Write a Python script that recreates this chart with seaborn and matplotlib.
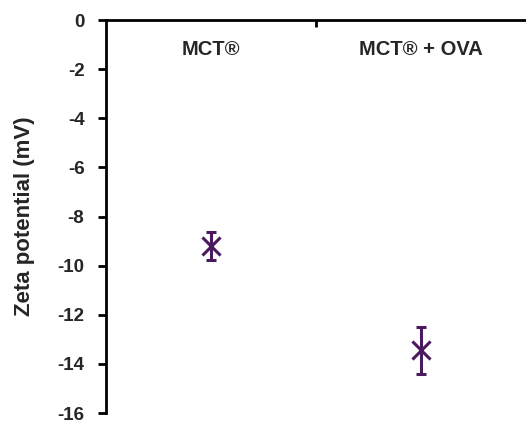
import pandas as pd
import matplotlib
matplotlib.use('Agg')
import matplotlib.pyplot as plt
import seaborn as sns

categories = ['MCT®', 'MCT® + OVA']
zeta = [-9.2, -13.45]
zeta_err = [0.58, 0.95]
y_ticks = list(range(0, -17, -2))

df = pd.DataFrame({'sample': categories, 'zeta': zeta, 'err': zeta_err})

sns.set_style('white')
plt.rcParams['font.family'] = ['Liberation Sans', 'DejaVu Sans']
plt.rcParams['font.weight'] = 'bold'

purple = '#4b1a5e'
fig = plt.figure(figsize=(5.26, 4.23), dpi=100)
ax = fig.add_axes([0.2015, 0.0236, 0.7985, 0.9291])

sns.scatterplot(data=df, x='sample', y='zeta', marker='x', s=170, color=purple,
                linewidth=2.2, ax=ax, zorder=3)
ax.errorbar(range(len(categories)), df['zeta'], yerr=df['err'], fmt='none',
            ecolor=purple, elinewidth=2.2, capsize=3.6, capthick=2.2)

ax.set_xlim(-0.5, 1.5)
ax.set_ylim(-16, 0)
ax.set_yticks(y_ticks)
ax.set_yticklabels([str(t) for t in y_ticks], fontsize=13.5, fontweight='bold')
ax.set_ylabel('Zeta potential (mV)', fontsize=16, fontweight='bold', labelpad=16)
ax.set_xlabel('')

# category labels sit just under the top axis line
ax.set_xticks([])
for i, name in enumerate(categories):
    ax.text(i, -1.22, name, ha='center', va='center', fontsize=14.5, fontweight='bold')
ax.set_xticks([0.5], minor=True)
ax.tick_params(axis='x', which='minor', top=True, bottom=False, direction='in',
               length=5, width=2, color='black')

for side in ['right', 'bottom']:
    ax.spines[side].set_visible(False)
for side in ['left', 'top']:
    ax.spines[side].set_linewidth(2)
    ax.spines[side].set_color('black')
ax.tick_params(axis='y', left=True, direction='out', length=5.5, width=2, pad=10,
               color='black')

fig.savefig('out.png', dpi=100)
